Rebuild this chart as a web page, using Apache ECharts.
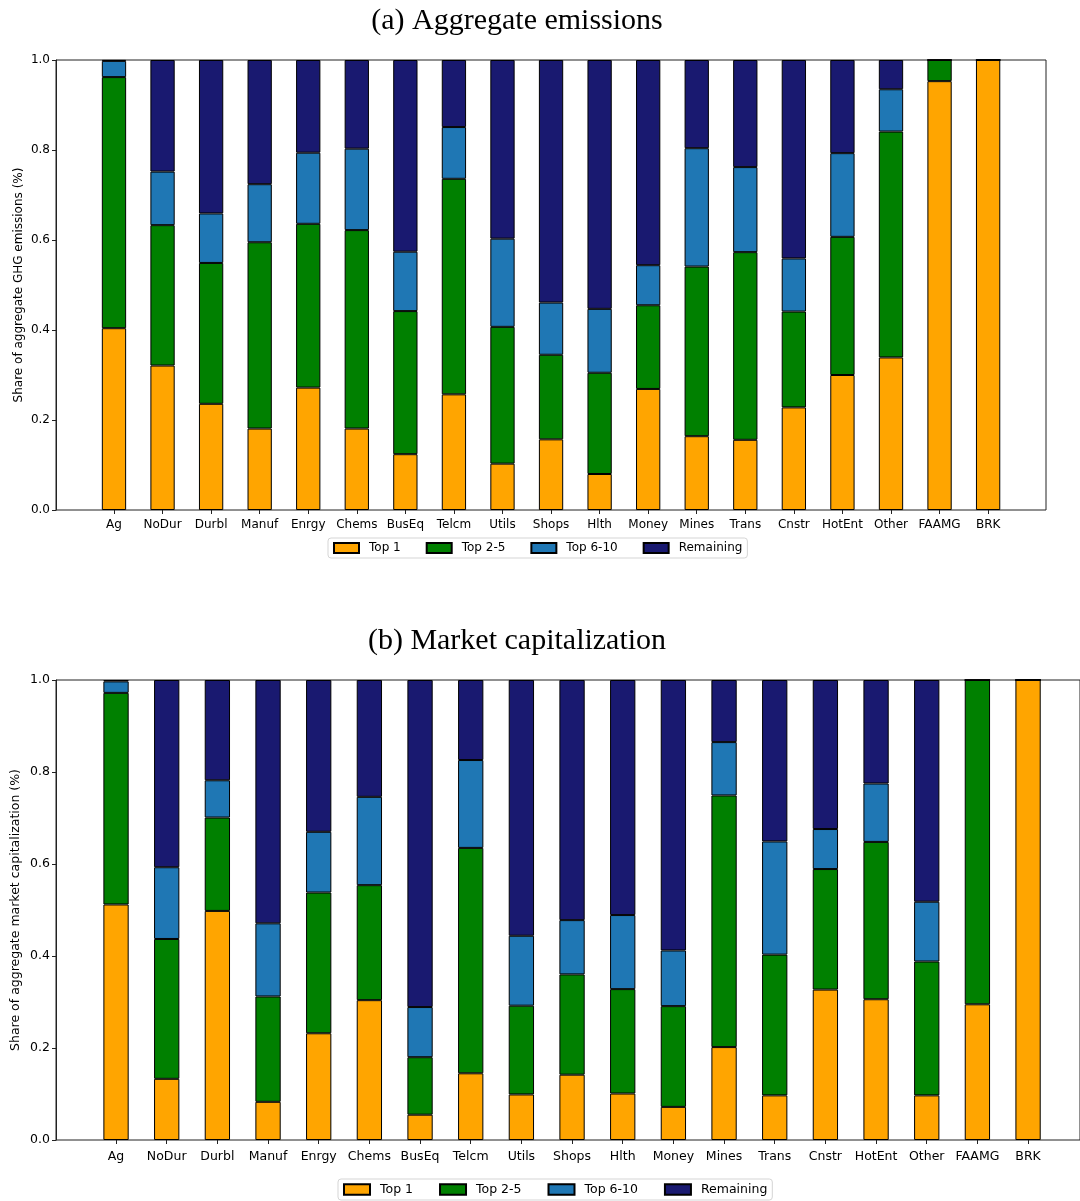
<!DOCTYPE html>
<html>
<head>
<meta charset="utf-8">
<script src="https://cdn.jsdelivr.net/npm/echarts@6/dist/echarts.min.js"></script>
<style>
html,body{margin:0;padding:0;background:#fff;}
#chart{width:1080px;height:1201px;}
</style>
</head>
<body>
<div id="chart"></div>
<script>
// Categories (industries)
var categories = ['Ag','NoDur','Durbl','Manuf','Enrgy','Chems','BusEq','Telcm','Utils','Shops','Hlth','Money','Mines','Trans','Cnstr','HotEnt','Other','FAAMG','BRK'];
var seriesNames = ['Top 1','Top 2-5','Top 6-10','Remaining'];
var yTicks = [0, 0.2, 0.4, 0.6, 0.8, 1.0];

// (a) Aggregate emissions shares
var emisTop1      = [0.404,0.321,0.236,0.181,0.272,0.181,0.124,0.257,0.103,0.157,0.080,0.269,0.164,0.156,0.228,0.300,0.339,0.953,1.000];
var emisTop2to5   = [0.558,0.312,0.313,0.414,0.364,0.441,0.318,0.479,0.304,0.188,0.225,0.186,0.377,0.417,0.213,0.307,0.502,0.047,0.000];
var emisTop6to10  = [0.036,0.119,0.110,0.129,0.158,0.181,0.132,0.115,0.196,0.116,0.142,0.089,0.263,0.189,0.118,0.186,0.094,0.000,0.000];
var emisRemaining = [0.002,0.248,0.341,0.276,0.206,0.197,0.426,0.149,0.397,0.539,0.553,0.456,0.196,0.238,0.441,0.207,0.065,0.000,0.000];

// (b) Market capitalization shares
var mcapTop1      = [0.512,0.133,0.498,0.083,0.232,0.304,0.055,0.145,0.099,0.142,0.101,0.072,0.202,0.097,0.327,0.306,0.097,0.295,1.000];
var mcapTop2to5   = [0.460,0.304,0.203,0.229,0.306,0.250,0.125,0.490,0.193,0.218,0.227,0.219,0.547,0.306,0.262,0.342,0.291,0.705,0.000];
var mcapTop6to10  = [0.025,0.156,0.081,0.159,0.132,0.192,0.109,0.191,0.152,0.118,0.161,0.121,0.116,0.246,0.087,0.127,0.130,0.000,0.000];
var mcapRemaining = [0.003,0.407,0.218,0.529,0.330,0.254,0.711,0.174,0.556,0.522,0.511,0.588,0.135,0.351,0.324,0.225,0.482,0.000,0.000];

var colors = ['#FFA500','#008000','#1f77b4','#191970'];
var FONT = 'DejaVu Sans';

var chart = echarts.init(document.getElementById('chart'), null, {renderer:'canvas'});

function frameY(gridIndex, name, fs, gap){
  return {
    gridIndex: gridIndex, type:'value', min:0, max:1, interval:0.2,
    axisLine:{show:true, lineStyle:{color:'#222', width:1}},
    axisTick:{show:true, inside:false, length:4, lineStyle:{color:'#222'}},
    axisLabel:{show:true, margin:6, fontSize:fs, fontFamily:FONT, color:'#000',
      formatter:function(v){return v.toFixed(1);}},
    splitLine:{show:false},
    name:name, nameLocation:'middle', nameRotate:90, nameGap:gap, nameMoveOverlap:false,
    nameTextStyle:{fontSize:fs, fontFamily:FONT, color:'#000'}
  };
}
function hiddenY(gridIndex){
  return {gridIndex:gridIndex, type:'value', min:0, max:1, show:false, splitLine:{show:false}};
}
function hiddenX(gridIndex){
  return {gridIndex:gridIndex, type:'value', min:0, max:1, show:false, splitLine:{show:false}};
}
function catX(gridIndex, fs, margin){
  return {
    gridIndex:gridIndex, type:'category', data:categories,
    axisLine:{show:false},
    axisTick:{show:true, alignWithLabel:true, length:4, lineStyle:{color:'#222'}},
    axisLabel:{show:true, margin:margin, fontSize:fs, fontFamily:FONT, color:'#000', interval:0},
    splitLine:{show:false}
  };
}
function makeSeries(xi, yi, stack, arrays, barW){
  return arrays.map(function(arr, k){
    return {
      name: seriesNames[k], type:'bar', stack:stack,
      xAxisIndex:xi, yAxisIndex:yi, data:arr, barWidth:barW,
      itemStyle:{color:colors[k], borderColor:'#000', borderWidth:1},
      emphasis:{disabled:true}
    };
  });
}
function legend(left, top, fs, w, h, gap){
  return {
    data: seriesNames, left:left, top:top, orient:'horizontal',
    itemWidth:w, itemHeight:h, itemGap:gap, icon:'rect',
    padding:[4,5], borderColor:'#d5d5d5', borderWidth:1, borderRadius:3,
    backgroundColor:'#fff',
    textStyle:{fontSize:fs, fontFamily:FONT, color:'#000', padding:[0,0,0,5]},
    selectedMode:false
  };
}

var option = {
  animation:false,
  backgroundColor:'#fff',
  grid:[
    {left:56, top:60, width:990, height:450, show:true, borderColor:'#222', borderWidth:1, backgroundColor:'transparent'},
    {left:89.7, top:60, width:922.7, height:450},
    {left:56, top:680, width:1034, height:460, show:true, borderColor:'#222', borderWidth:1, backgroundColor:'transparent'},
    {left:90.7, top:680, width:962.7, height:460}
  ],
  xAxis:[ hiddenX(0), catX(1, 12, 9), hiddenX(2), catX(3, 12.5, 10) ],
  yAxis:[
    frameY(0, 'Share of aggregate GHG emissions (%)', 12, 31),
    hiddenY(1),
    frameY(2, 'Share of aggregate market capitalization (%)', 12.5, 34),
    hiddenY(3)
  ],
  legend:[
    legend(328, 538, 12, 25, 10, 25),
    legend(338, 1179, 12.5, 26, 10.5, 26)
  ],
  graphic:[
    {type:'text', x:517, y:21, style:{text:'(a) Aggregate emissions', font:'30px "Liberation Serif"', fill:'#000', textAlign:'center', textVerticalAlign:'middle'}},
    {type:'text', x:517, y:641, style:{text:'(b) Market capitalization', font:'30px "Liberation Serif"', fill:'#000', textAlign:'center', textVerticalAlign:'middle'}}
  ],
  series: [].concat(
    makeSeries(1, 1, 'a', [emisTop1, emisTop2to5, emisTop6to10, emisRemaining], 24.3),
    makeSeries(3, 3, 'b', [mcapTop1, mcapTop2to5, mcapTop6to10, mcapRemaining], 25.3)
  )
};
chart.setOption(option);
</script>
</body>
</html>
